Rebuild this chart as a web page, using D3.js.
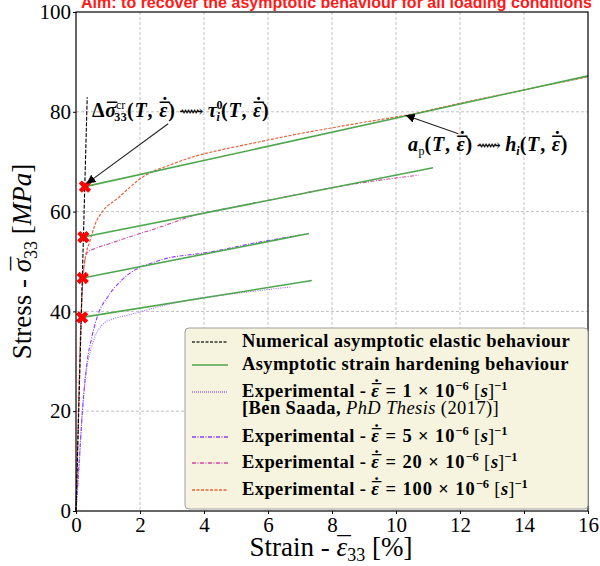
<!DOCTYPE html>
<html>
<head>
<meta charset="utf-8">
<script src="https://cdn.jsdelivr.net/npm/d3@7"></script>
<style>
  body { margin: 0; background: #fff; }
  svg { display: block; }
</style>
</head>
<body>
<div id="chart"></div>
<script>
// values (strain in %, stress in MPa)
var xTicks = [0, 2, 4, 6, 8, 10, 12, 14, 16];
var yTicks = [0, 20, 40, 60, 80, 100];

var elasticX = [0, 0.35];
var elasticY = [0, 82.9];

var yieldX = [0.28, 0.23, 0.21, 0.19];
var yieldY = [65, 54.9, 46.7, 38.8];

var hardenEndX = [16, 11.16, 7.28, 7.37];
var hardenEndY = [87.2, 68.8, 55.6, 46.2];

var exp1X = [0, 0.1, 0.2, 0.3, 0.45, 0.6, 0.85, 1.2, 1.6, 2.5, 3.7, 5, 6.7];
var exp1Y = [0, 9, 20, 27, 32, 35, 37.5, 38.6, 39.2, 40.8, 42.5, 43.6, 44.9];

var exp5X = [0, 0.1, 0.2, 0.35, 0.5, 0.7, 1.0, 1.45, 2.6, 4.2, 5.5, 7.0];
var exp5Y = [0, 10, 20, 30, 35, 39.6, 43, 46.4, 50.2, 51.9, 53.6, 55.3];

var exp20X = [0, 0.1, 0.18, 0.25, 0.35, 0.6, 1.06, 1.8, 2.63, 3.67, 5, 6.5, 8, 9.5, 10.7];
var exp20Y = [0, 25, 42, 49, 51.8, 52.6, 53.6, 55.2, 56.9, 59.2, 61, 62.9, 64.8, 66.3, 67.3];

var exp100X = [0, 0.08, 0.15, 0.22, 0.3, 0.44, 0.6, 0.85, 1.27, 2.1, 3.0, 3.67, 4.7, 5.75, 6.5, 7.3, 8.2, 8.9, 10.3, 12, 14, 16];
var exp100Y = [0, 20, 38, 47, 51, 54.2, 57.5, 60.2, 62.5, 67, 69.5, 71, 72.6, 74, 75, 76, 77, 77.8, 79.3, 81.7, 84.4, 87];

var W = 600, H = 566;
var margin = {top: 12, right: 12, bottom: 55, left: 76},
  width = W - margin.left - margin.right,
  height = H - margin.top - margin.bottom;

var serif = "'Liberation Serif', 'DejaVu Serif', serif";
var green = "#4ea64e";
var cols = {e1: "#9b6cf2", e5: "#8a3cff", e20: "#cc4aa0", e100: "#e8623a"};

var svg = d3.select("#chart").append("svg")
  .attr("width", W)
  .attr("height", H);

var g = svg.append("g")
  .attr("transform", "translate(" + margin.left + "," + margin.top + ")");

var x = d3.scaleLinear().domain([0, 16]).range([0, width]);
var y = d3.scaleLinear().domain([0, 100]).range([height, 0]);

// grid
g.append("g").selectAll("line")
  .data(xTicks.slice(1, -1))
  .enter().append("line")
  .attr("x1", function(d) { return x(d); })
  .attr("x2", function(d) { return x(d); })
  .attr("y1", 0).attr("y2", height)
  .attr("stroke", "#b0b0b0").attr("stroke-width", 0.8)
  .attr("stroke-dasharray", "3,2");

g.append("g").selectAll("line")
  .data(yTicks.slice(1, -1))
  .enter().append("line")
  .attr("y1", function(d) { return y(d); })
  .attr("y2", function(d) { return y(d); })
  .attr("x1", 0).attr("x2", width)
  .attr("stroke", "#b0b0b0").attr("stroke-width", 0.8)
  .attr("stroke-dasharray", "3,2");

var line = d3.line()
  .x(function(d) { return x(d[0]); })
  .y(function(d) { return y(d[1]); });

function pairs(xs, ys) {
  return xs.map(function(v, i) { return [v, ys[i]]; });
}

// experimental curves
var series = [
  {xs: exp1X, ys: exp1Y, c: cols.e1, dash: "1,1.3", w: 1.1},
  {xs: exp5X, ys: exp5Y, c: cols.e5, dash: "4,1.5,1,1.5", w: 1.1},
  {xs: exp20X, ys: exp20Y, c: cols.e20, dash: "4,1.5,1,1.5", w: 1.1},
  {xs: exp100X, ys: exp100Y, c: cols.e100, dash: "3,1.5", w: 1.2}
];

series.forEach(function(s) {
  g.append("path")
    .datum(pairs(s.xs, s.ys))
    .attr("d", line.curve(d3.curveMonotoneX))
    .attr("fill", "none")
    .attr("stroke", s.c)
    .attr("stroke-width", s.w)
    .attr("stroke-dasharray", s.dash);
});
line.curve(d3.curveLinear);

// asymptotic hardening lines
yieldX.forEach(function(v, i) {
  g.append("path")
    .datum([[v, yieldY[i]], [hardenEndX[i], hardenEndY[i]]])
    .attr("d", line)
    .attr("fill", "none")
    .attr("stroke", green)
    .attr("stroke-width", 1.6);
});

// elastic line
g.append("path")
  .datum(pairs(elasticX, elasticY))
  .attr("d", line)
  .attr("fill", "none")
  .attr("stroke", "#000")
  .attr("stroke-width", 1.1)
  .attr("stroke-dasharray", "4,1.5");

// yield markers
g.append("g").selectAll("path")
  .data(pairs(yieldX, yieldY))
  .enter().append("path")
  .attr("d", d3.symbol().type(d3.symbolCross).size(95))
  .attr("transform", function(d) {
    return "translate(" + x(d[0]) + "," + y(d[1]) + ") rotate(45)";
  })
  .attr("fill", "#ff0000");

// frame
g.append("rect")
  .attr("width", width).attr("height", height)
  .attr("fill", "none").attr("stroke", "#000").attr("stroke-width", 1.2);

// axes
var xAxis = g.append("g")
  .attr("transform", "translate(0," + height + ")")
  .call(d3.axisBottom(x).tickValues(xTicks).tickSize(3).tickPadding(3));
var yAxis = g.append("g")
  .call(d3.axisLeft(y).tickValues(yTicks).tickSize(3).tickPadding(2));
[xAxis, yAxis].forEach(function(a) {
  a.attr("font-family", serif);
  a.select(".domain").remove();
  a.selectAll("text").attr("font-size", 21).attr("fill", "#000");
});

// arrows
var defs = svg.append("defs");
defs.append("marker")
  .attr("id", "head")
  .attr("viewBox", "0 0 10 10")
  .attr("refX", 10).attr("refY", 5)
  .attr("markerWidth", 9).attr("markerHeight", 9)
  .attr("markerUnits", "userSpaceOnUse")
  .attr("orient", "auto")
  .append("path").attr("d", "M0,0 L10,5 L0,10 z").attr("fill", "#000");

function arrow(x1, y1, x2, y2) {
  g.append("line")
    .attr("x1", x(x1)).attr("y1", y(y1))
    .attr("x2", x(x2)).attr("y2", y(y2))
    .attr("stroke", "#222").attr("stroke-width", 1.1)
    .attr("marker-end", "url(#head)");
}
arrow(2.88, 77.6, 0.33, 65.6);
arrow(11.95, 75.6, 10.3, 79.3);

// text with small sub/superscripts and accents placed by hand
function mathText(parent, px, py, parts, size, weight) {
  var t = parent.append("text")
    .attr("x", px).attr("y", py)
    .attr("font-family", serif)
    .attr("font-size", size)
    .attr("font-weight", weight || "bold");
  var pend = {dx: 0, dy: 0};
  parts.forEach(function(p) {
    var s = t.append("tspan").text(p.t);
    if (p.it) s.attr("font-style", "italic");
    if (p.fs) s.attr("font-size", p.fs);
    if (p.ff) s.attr("font-family", p.ff);
    if (p.fw) s.attr("font-weight", p.fw);
    if (p.ls) s.attr("letter-spacing", p.ls);
    var dx = (p.dx || 0) + pend.dx, dy = (p.dy || 0) + pend.dy;
    if (dx) s.attr("dx", dx);
    if (dy) s.attr("dy", dy);
    pend = {dx: 0, dy: 0};
    if (p.acc) {
      var w = s.node().getComputedTextLength();
      var lift = 0, prevW = w, prevShift = 0;
      p.acc.forEach(function(ac, k) {
        var a = t.append("tspan").text(ac.c).attr("font-weight", weight || "bold");
        var aw = a.node().getComputedTextLength();
        var shift = ac.sx || 0;
        if (k === 0) {
          a.attr("dx", -(w + aw) / 2 + shift);
        } else {
          a.attr("dx", -(prevW + aw) / 2 + shift - prevShift);
        }
        a.attr("dy", -(ac.dy || 0) + lift);
        lift = ac.dy || 0;
        prevW = aw;
        prevShift = shift;
        pend = {dx: (w - aw) / 2 - shift, dy: lift};
      });
    }
  });
  return t;
}

var epsAcc = [{c: "\u00af", dy: 0, sx: 1.5}, {c: "\u02d9", dy: 5, sx: 1.5}];
var sigAcc = [{c: "\u00af", dy: 0, sx: 1.5}];
var squig = {t: " \u27ff ", fs: 17, fw: "normal"};

// annotation 1
mathText(svg, 92, 117, [
  {t: "\u0394", ls: 0.6},
  {t: "\u03c3", it: true, acc: sigAcc},
  {t: "cr", fs: 12, dy: -8, fw: "normal"},
  {t: "33", fs: 12, dy: 12, dx: -11, ls: 0.4},
  {t: "(", dy: -4, ls: 0.8},
  {t: "T", it: true, ls: 0.8},
  {t: ", ", ls: 0.8},
  {t: "\u03b5", it: true, acc: epsAcc},
  {t: ")", dx: 0.8},
  squig,
  {t: "\u03c4", it: true},
  {t: "0", fs: 12, dy: -8},
  {t: "i", fs: 12, it: true, dy: 12, dx: -6},
  {t: "(", dy: -4, dx: 1, ls: 0.8},
  {t: "T", it: true, ls: 0.8},
  {t: ", ", ls: 0.8},
  {t: "\u03b5", it: true, acc: epsAcc},
  {t: ")", dx: 0.8}
], 20);

// annotation 2
mathText(svg, 408, 151, [
  {t: "a", it: true, ls: 0.5},
  {t: "p", fs: 12, dy: 4, fw: "normal"},
  {t: "(", dy: -4, ls: 0.8},
  {t: "T", it: true, ls: 0.8},
  {t: ", ", ls: 0.8},
  {t: "\u03b5", it: true, acc: epsAcc},
  {t: ")", dx: 0.8},
  squig,
  {t: "h", it: true},
  {t: "i", fs: 12, it: true, dy: 4},
  {t: "(", dy: -4, ls: 0.8},
  {t: "T", it: true, ls: 0.8},
  {t: ", ", ls: 0.8},
  {t: "\u03b5", it: true, acc: epsAcc},
  {t: ")", dx: 0.8}
], 20);

// legend
var lg = svg.append("g");
lg.append("rect")
  .attr("x", 185).attr("y", 328)
  .attr("width", 403).attr("height", 181)
  .attr("rx", 4)
  .attr("fill", "#f6f4df")
  .attr("stroke", "#a0a0a0")
  .attr("stroke-width", 1);

var legendRows = [
  {y: 347, c: "#333", dash: "3,1.5", parts: [{t: "Numerical asymptotic elastic behaviour", ls: 0.4}]},
  {y: 370, c: green, dash: null, parts: [{t: "Asymptotic strain hardening behaviour", ls: 0.4}]},
  {y: 397, c: cols.e1, dash: "1,1", rate: "1"},
  {y: 442, c: cols.e5, dash: "4,1.5,1,1.5", rate: "5"},
  {y: 468, c: cols.e20, dash: "4,1.5,1,1.5", rate: "20"},
  {y: 495, c: cols.e100, dash: "3,1.5", rate: "100"}
];

legendRows.forEach(function(r) {
  lg.append("line")
    .attr("x1", 192).attr("x2", 228)
    .attr("y1", r.y - 5).attr("y2", r.y - 5)
    .attr("stroke", r.c).attr("stroke-width", 1.3)
    .attr("stroke-dasharray", r.dash);
  var parts = r.parts || [
    {t: "Experimental - ", ls: 0.4},
    {t: "\u03b5", it: true, acc: epsAcc},
    {t: " = " + r.rate + " \u00d7 10", ls: 0.9, dx: 1},
    {t: "\u22126", fs: 12.5, dy: -7},
    {t: " [", dy: 7, fw: "normal", ls: 0.6},
    {t: "s", it: true},
    {t: "]", fw: "normal"},
    {t: "\u22121", fs: 12.5, dy: -7}
  ];
  mathText(lg, 242, r.y, parts, 18.5);
});

mathText(lg, 242, 414, [
  {t: "[Ben Saada, ", ls: 0.4},
  {t: "PhD Thesis", it: true, fw: "normal", ls: 0.4},
  {t: " (2017)]", fw: "normal", ls: 0.4}
], 18.5);

// axis titles
mathText(svg, 331, 556, [
  {t: "Strain - "},
  {t: "\u03b5", it: true, acc: [{c: "\u00af", dy: 0, sx: 2}]},
  {t: "33", fs: 18, dy: 5},
  {t: " [%]", dy: -5}
], 27, "normal").attr("text-anchor", "middle");

mathText(svg, 0, 0, [
  {t: "Stress - "},
  {t: "\u03c3", it: true, acc: [{c: "\u00af", dy: 0, sx: 2}]},
  {t: "33", fs: 18, dy: 6},
  {t: " [", dy: -6},
  {t: "MPa", it: true},
  {t: "]"}
], 27, "normal")
  .attr("text-anchor", "middle")
  .attr("transform", "translate(31," + (margin.top + height / 2) + ") rotate(-90)");

// title (cropped at top in the original)
svg.append("text")
  .attr("x", 81).attr("y", 7.5)
  .attr("font-family", "'Liberation Sans', Arial, sans-serif")
  .attr("font-weight", "bold")
  .attr("font-size", 16)
  .attr("fill", "#ff1a1a")
  .attr("textLength", 511)
  .attr("lengthAdjust", "spacingAndGlyphs")
  .text("Aim: to recover the asymptotic behaviour for all loading conditions");
</script>
</body>
</html>
